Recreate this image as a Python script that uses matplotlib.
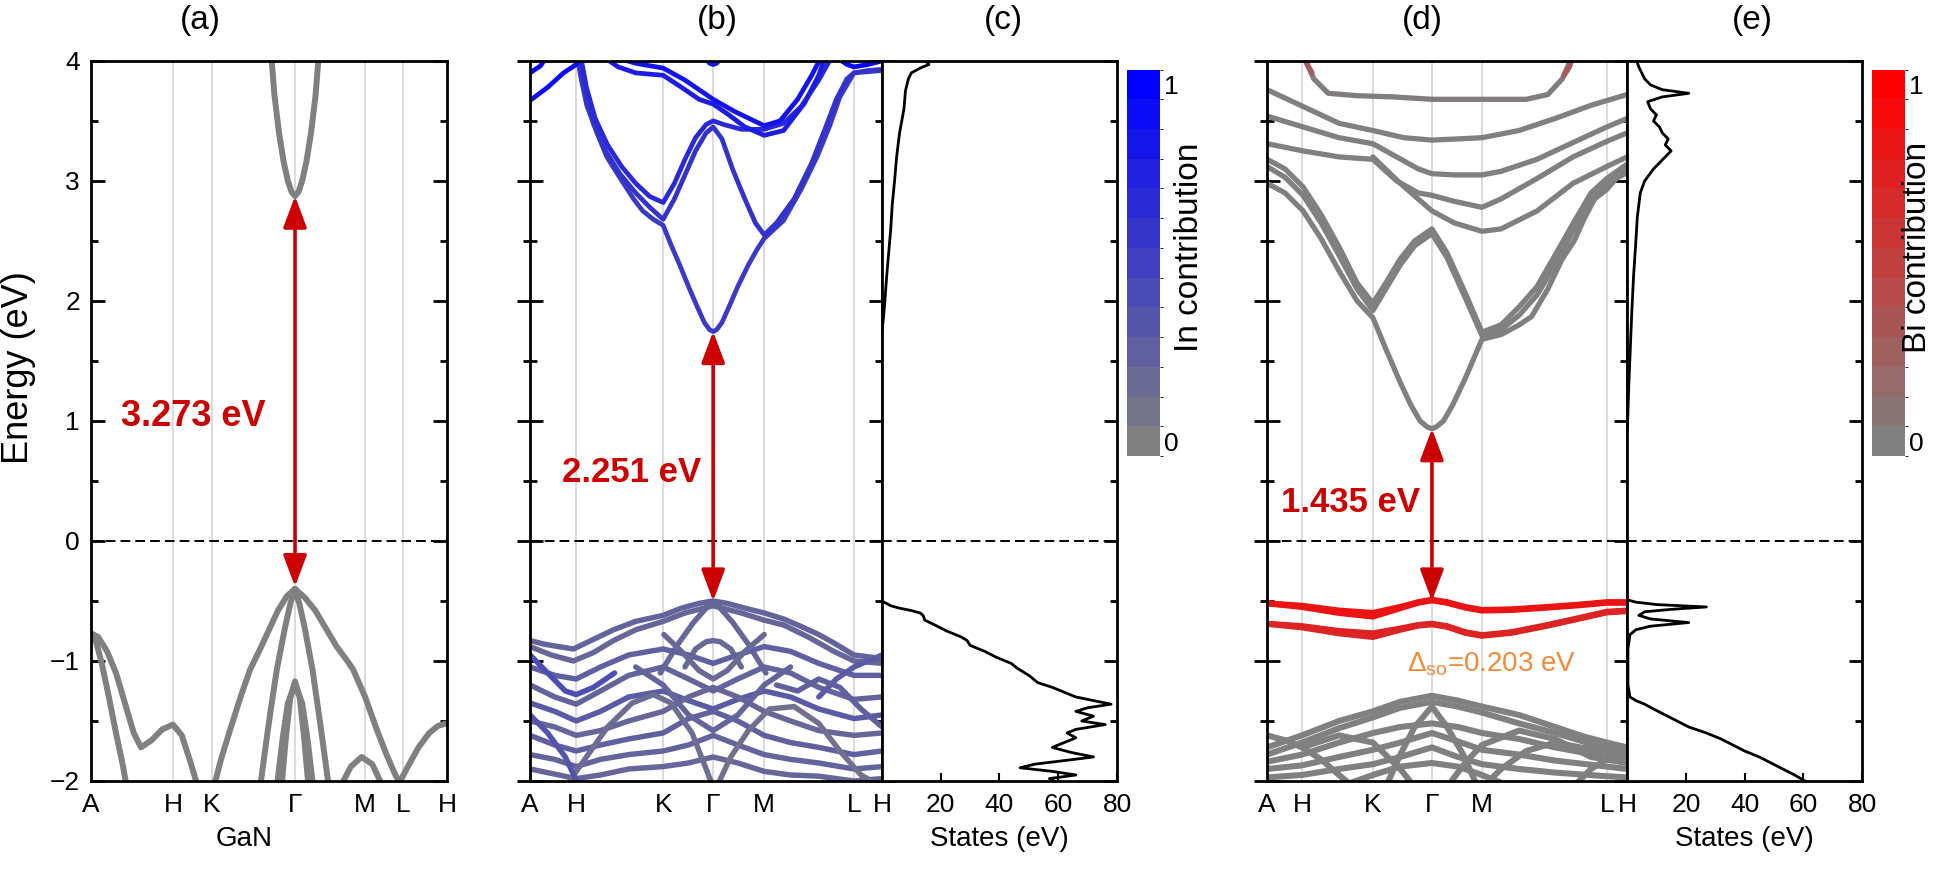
import numpy as np
import matplotlib
matplotlib.use("Agg")
from matplotlib import pyplot as plt
from matplotlib.colors import LinearSegmentedColormap, ListedColormap, BoundaryNorm
from matplotlib.cm import ScalarMappable

plt.rcParams['font.family'] = ['Liberation Sans', 'DejaVu Sans']
plt.rcParams['mathtext.fontset'] = 'custom'
plt.rcParams['mathtext.rm'] = 'Liberation Sans'

# high symmetry points, as fraction of the k-path
klabels = ['A', 'H', 'K', 'Γ', 'M', 'L', 'H']
kpos_a = [0, 0.230, 0.340, 0.573, 0.770, 0.876, 1.0]
kpos_b = [0, 0.131, 0.378, 0.520, 0.665, 0.920, 1.0]
kpos_d = [0, 0.097, 0.294, 0.458, 0.597, 0.944, 1.0]

# band edges at Gamma (VBM, CBM) and gap labels
edges_a = (-0.38, 2.873)
edges_b = (-0.50, 1.745)
edges_d = (-0.50, 0.935)
gap_text = ['3.273 eV', '2.251 eV', '1.435 eV']
so_text = 'Δ$_{\\rm so}$=0.203 eV'

# (a) GaN bands  [(k, E), ...]
gan_bands = [
    [(0.505, 4.1), (0.515, 3.72), (0.528, 3.40), (0.541, 3.16), (0.553, 3.00), (0.563, 2.91), (0.573, 2.873),
     (0.583, 2.91), (0.593, 3.00), (0.605, 3.16), (0.618, 3.40), (0.631, 3.72), (0.641, 4.1)],
    [(0.573, -0.40), (0.55, -0.46), (0.525, -0.58), (0.50, -0.74), (0.475, -0.90), (0.447, -1.07), (0.42, -1.30),
     (0.39, -1.58), (0.365, -1.82), (0.345, -2.05)],
    [(0.573, -0.40), (0.56, -0.52), (0.545, -0.72), (0.522, -1.07), (0.505, -1.40), (0.49, -1.72), (0.475, -2.05)],
    [(0.573, -0.40), (0.585, -0.52), (0.60, -0.72), (0.622, -1.07), (0.638, -1.40), (0.653, -1.72), (0.668, -2.05)],
    [(0.573, -0.40), (0.60, -0.47), (0.63, -0.58), (0.66, -0.73), (0.69, -0.88), (0.72, -1.0), (0.736, -1.07),
     (0.77, -1.30), (0.80, -1.55), (0.83, -1.78), (0.855, -1.95), (0.876, -2.05)],
    [(0.86, -2.05), (0.89, -1.88), (0.92, -1.72), (0.95, -1.60), (0.975, -1.54), (1.0, -1.52)],
    [(0.70, -2.05), (0.73, -1.88), (0.76, -1.80), (0.79, -1.86), (0.82, -2.05)],
    [(0, -0.77), (0.02, -0.80), (0.045, -0.92), (0.07, -1.10), (0.095, -1.35), (0.12, -1.60), (0.14, -1.72),
     (0.17, -1.66), (0.20, -1.57), (0.23, -1.53), (0.255, -1.62), (0.28, -1.85), (0.30, -2.05)],
    [(0, -0.77), (0.015, -0.85), (0.03, -1.02), (0.05, -1.30), (0.07, -1.60), (0.09, -1.88), (0.10, -2.05)],
    [(0.535, -2.05), (0.548, -1.62), (0.56, -1.30), (0.573, -1.17), (0.586, -1.30), (0.598, -1.62), (0.611, -2.05)],
    [(0.522, -2.05), (0.538, -1.65), (0.553, -1.35), (0.573, -1.20), (0.593, -1.35), (0.608, -1.65), (0.624, -2.05)],
]

# (b) InGaN bands and their In contribution
ingan_bands = [
    [(0.133, 4.05), (0.145, 3.85), (0.161, 3.63), (0.19, 3.40), (0.218, 3.2), (0.25, 3.05), (0.294, 2.85),
     (0.32, 2.75), (0.35, 2.68), (0.378, 2.63), (0.40, 2.47), (0.425, 2.30), (0.45, 2.12), (0.475, 1.95),
     (0.495, 1.82), (0.51, 1.76), (0.52, 1.745), (0.53, 1.76), (0.545, 1.82), (0.565, 1.95), (0.59, 2.12),
     (0.62, 2.30), (0.645, 2.43), (0.665, 2.52), (0.72, 2.67), (0.77, 2.93), (0.815, 3.2), (0.85, 3.45),
     (0.88, 3.7), (0.92, 3.9), (0.96, 3.91), (1.0, 3.92)],
    [(0.138, 4.05), (0.155, 3.75), (0.18, 3.48), (0.215, 3.25), (0.255, 3.06), (0.30, 2.9), (0.34, 2.78),
     (0.378, 2.68), (0.41, 2.85), (0.44, 3.05), (0.47, 3.25), (0.50, 3.40), (0.52, 3.45), (0.545, 3.35),
     (0.575, 3.1), (0.61, 2.85), (0.64, 2.65), (0.665, 2.55), (0.70, 2.65), (0.75, 2.85), (0.80, 3.15),
     (0.84, 3.45), (0.87, 3.68), (0.90, 3.85), (0.92, 3.9), (0.96, 3.92), (1.0, 3.93)],
    [(0.143, 4.05), (0.16, 3.78), (0.185, 3.52), (0.22, 3.3), (0.26, 3.12), (0.30, 2.98), (0.34, 2.87),
     (0.378, 2.82), (0.41, 2.98), (0.44, 3.18), (0.47, 3.36), (0.50, 3.47), (0.52, 3.50), (0.55, 3.47),
     (0.60, 3.43), (0.665, 3.43), (0.72, 3.48), (0.77, 3.62), (0.82, 3.84), (0.86, 4.05)],
    [(0.20, 4.05), (0.25, 3.95), (0.30, 3.90), (0.378, 3.88), (0.43, 3.78), (0.48, 3.68), (0.52, 3.64),
     (0.56, 3.56), (0.61, 3.45), (0.665, 3.38), (0.72, 3.42), (0.78, 3.65), (0.82, 3.88), (0.84, 4.05)],
    [(0.22, 4.05), (0.30, 3.98), (0.378, 3.94), (0.44, 3.84), (0.52, 3.68), (0.58, 3.58), (0.665, 3.46),
     (0.71, 3.5), (0.76, 3.68), (0.80, 3.88), (0.83, 4.05)],
    [(0, 3.67), (0.05, 3.78), (0.095, 3.9), (0.131, 3.97), (0.15, 4.05)],
    [(0, 3.9), (0.03, 3.96), (0.05, 4.05)],
    [(0.49, 4.05), (0.51, 3.98), (0.52, 3.97), (0.53, 3.98), (0.55, 4.05)],
    [(0.86, 4.05), (0.90, 3.97), (0.92, 3.95), (0.96, 3.97), (1.0, 4.0)],
    # valence
    [(0, -0.83), (0.04, -0.86), (0.08, -0.88), (0.123, -0.90), (0.18, -0.82), (0.237, -0.74), (0.30, -0.67),
     (0.378, -0.62), (0.43, -0.56), (0.48, -0.52), (0.52, -0.50), (0.56, -0.52), (0.61, -0.56), (0.665, -0.60),
     (0.72, -0.65), (0.768, -0.71), (0.82, -0.78), (0.863, -0.85), (0.92, -0.95), (1.0, -0.98)],
    [(0, -0.88), (0.06, -0.95), (0.123, -1.0), (0.18, -0.93), (0.237, -0.83), (0.30, -0.74), (0.378, -0.67),
     (0.44, -0.60), (0.52, -0.54), (0.60, -0.60), (0.665, -0.66), (0.72, -0.70), (0.79, -0.80), (0.863, -0.92),
     (0.92, -1.0), (1.0, -1.02)],
    [(0.37, -1.1), (0.42, -0.86), (0.464, -0.68), (0.50, -0.56), (0.52, -0.52), (0.54, -0.56), (0.576, -0.68),
     (0.62, -0.86), (0.67, -1.1)],
    [(0.44, -1.05), (0.47, -0.90), (0.50, -0.84), (0.52, -0.83), (0.54, -0.84), (0.57, -0.90), (0.60, -1.05)],
    [(0, -1.05), (0.07, -1.12), (0.131, -1.15), (0.20, -1.05), (0.28, -0.95), (0.378, -0.90), (0.45, -0.95),
     (0.52, -1.02), (0.59, -0.95), (0.665, -0.88), (0.74, -0.92), (0.82, -1.02), (0.92, -1.12), (1.0, -1.12)],
    [(0, -1.2), (0.07, -1.3), (0.131, -1.36), (0.20, -1.25), (0.28, -1.12), (0.378, -1.05), (0.45, -1.15),
     (0.52, -1.25), (0.59, -1.15), (0.665, -1.05), (0.74, -1.1), (0.82, -1.22), (0.92, -1.32), (1.0, -1.3)],
    [(0, -1.35), (0.07, -1.42), (0.131, -1.5), (0.20, -1.42), (0.28, -1.3), (0.378, -1.25), (0.45, -1.33),
     (0.52, -1.4), (0.59, -1.32), (0.665, -1.25), (0.74, -1.3), (0.82, -1.4), (0.92, -1.48), (1.0, -1.45)],
    [(0, -1.5), (0.07, -1.55), (0.131, -1.62), (0.20, -1.58), (0.28, -1.5), (0.378, -1.42), (0.45, -1.3),
     (0.52, -1.22), (0.59, -1.3), (0.665, -1.42), (0.74, -1.5), (0.82, -1.58), (0.92, -1.62), (1.0, -1.6)],
    [(0, -1.62), (0.07, -1.7), (0.131, -1.75), (0.20, -1.7), (0.28, -1.65), (0.378, -1.6), (0.45, -1.48),
     (0.52, -1.42), (0.59, -1.5), (0.665, -1.62), (0.74, -1.68), (0.82, -1.72), (0.92, -1.78), (1.0, -1.75)],
    [(0, -1.78), (0.07, -1.82), (0.131, -1.88), (0.20, -1.82), (0.28, -1.78), (0.378, -1.75), (0.45, -1.7),
     (0.52, -1.62), (0.59, -1.7), (0.665, -1.78), (0.74, -1.82), (0.82, -1.85), (0.92, -1.9), (1.0, -1.88)],
    [(0, -1.9), (0.131, -1.98), (0.20, -1.95), (0.28, -1.9), (0.378, -1.88), (0.45, -1.85), (0.52, -1.8),
     (0.59, -1.85), (0.665, -1.92), (0.74, -1.95), (0.82, -1.96), (0.92, -2.0), (1.0, -1.98)],
    [(0.38, -0.78), (0.43, -0.92), (0.48, -1.08), (0.52, -1.15), (0.56, -1.08), (0.61, -0.92), (0.665, -0.78)],
    [(0.30, -1.05), (0.378, -1.2), (0.45, -1.45), (0.52, -1.58), (0.59, -1.45), (0.665, -1.2), (0.74, -1.05)],
    [(0, -0.95), (0.05, -1.1), (0.10, -1.25), (0.131, -1.28), (0.18, -1.22), (0.24, -1.1)],
    [(0.82, -1.3), (0.87, -1.15), (0.92, -1.05), (0.96, -1.0), (1.0, -0.95)],
    [(0.10, -2.05), (0.16, -1.8), (0.22, -1.55), (0.29, -1.35), (0.35, -1.28), (0.40, -1.35), (0.46, -1.6),
     (0.50, -1.9), (0.52, -2.05)],
    [(0.53, -2.05), (0.57, -1.8), (0.62, -1.58), (0.68, -1.4), (0.75, -1.38), (0.82, -1.52), (0.88, -1.75),
     (0.94, -1.95), (1.0, -2.05)],
    [(0, -1.45), (0.05, -1.6), (0.10, -1.8), (0.14, -2.05)],
    [(0.70, -1.2), (0.76, -1.25), (0.82, -1.15), (0.88, -1.22), (0.94, -1.4), (1.0, -1.55)],
]
ingan_w = [0.55, 0.6, 0.68, 0.78, 0.85, 0.9, 0.95, 0.85, 0.95,
           0.22, 0.2, 0.2, 0.18, 0.25, 0.22, 0.3, 0.2, 0.25, 0.22, 0.2, 0.18, 0.22, 0.4, 0.3,
           0.15, 0.12, 0.35, 0.25]

# (d) InGaBiN bands and their Bi contribution
ingabin_bands = [
    [(0.10, 4.05), (0.13, 3.85), (0.17, 3.73), (0.25, 3.71), (0.35, 3.70), (0.458, 3.68), (0.55, 3.68),
     (0.65, 3.68), (0.72, 3.68), (0.78, 3.72), (0.82, 3.85), (0.85, 4.05)],
    [(0, 3.76), (0.10, 3.62), (0.20, 3.48), (0.294, 3.42), (0.38, 3.36), (0.458, 3.34), (0.53, 3.35),
     (0.597, 3.36), (0.70, 3.42), (0.80, 3.52), (0.90, 3.63), (1.0, 3.72)],
    [(0, 3.54), (0.10, 3.45), (0.20, 3.36), (0.294, 3.31), (0.36, 3.2), (0.42, 3.1), (0.458, 3.06),
     (0.52, 3.05), (0.597, 3.05), (0.65, 3.08), (0.75, 3.18), (0.85, 3.32), (0.944, 3.45), (1.0, 3.52)],
    [(0, 3.31), (0.10, 3.25), (0.20, 3.2), (0.294, 3.18), (0.36, 3.0), (0.42, 2.9), (0.458, 2.88),
     (0.52, 2.83), (0.597, 2.78), (0.65, 2.85), (0.75, 3.02), (0.85, 3.2), (0.944, 3.33), (1.0, 3.4)],
    [(0.294, 3.2), (0.37, 2.98), (0.458, 2.75), (0.52, 2.65), (0.597, 2.58), (0.65, 2.6), (0.75, 2.75),
     (0.85, 2.98), (0.944, 3.12), (1.0, 3.2)],
    [(0, 3.18), (0.05, 3.1), (0.10, 2.95), (0.15, 2.72), (0.20, 2.45), (0.25, 2.15), (0.294, 1.98), (0.33, 2.15),
     (0.37, 2.35), (0.41, 2.5), (0.458, 2.6), (0.50, 2.4), (0.55, 2.07), (0.597, 1.74), (0.65, 1.8), (0.70, 1.95),
     (0.75, 2.12), (0.80, 2.38), (0.853, 2.66), (0.90, 2.9), (0.944, 3.02), (1.0, 3.14)],
    [(0, 3.12), (0.05, 3.03), (0.10, 2.88), (0.15, 2.65), (0.20, 2.38), (0.25, 2.1), (0.294, 1.92), (0.33, 2.1),
     (0.37, 2.3), (0.41, 2.46), (0.458, 2.56), (0.50, 2.36), (0.55, 2.03), (0.597, 1.71), (0.65, 1.76),
     (0.70, 1.88), (0.75, 2.05), (0.80, 2.3), (0.853, 2.6), (0.90, 2.84), (0.944, 2.97), (1.0, 3.1)],
    [(0, 2.98), (0.05, 2.9), (0.10, 2.75), (0.15, 2.52), (0.20, 2.25), (0.25, 2.0), (0.294, 1.86), (0.33, 1.6),
     (0.37, 1.32), (0.40, 1.13), (0.425, 1.0), (0.445, 0.95), (0.458, 0.935), (0.47, 0.95), (0.49, 1.0),
     (0.515, 1.13), (0.55, 1.35), (0.597, 1.68), (0.65, 1.72), (0.70, 1.8), (0.735, 1.87), (0.78, 2.1),
     (0.82, 2.35), (0.853, 2.5), (0.88, 2.68), (0.91, 2.85), (0.944, 2.93), (0.97, 3.02), (1.0, 3.07)],
    [(0.10, 4.05), (0.115, 3.95), (0.125, 3.9)],
    [(0.825, 3.88), (0.84, 3.95), (0.85, 4.05)],
    # Bi-derived valence bands
    [(0, -0.52), (0.097, -0.54), (0.20, -0.58), (0.294, -0.60), (0.37, -0.55), (0.42, -0.51), (0.458, -0.49),
     (0.50, -0.51), (0.55, -0.55), (0.597, -0.575), (0.68, -0.57), (0.78, -0.55), (0.87, -0.53), (0.944, -0.51),
     (1.0, -0.51)],
    [(0, -0.52), (0.097, -0.55), (0.20, -0.60), (0.294, -0.63), (0.37, -0.56), (0.42, -0.515), (0.458, -0.495),
     (0.50, -0.515), (0.55, -0.555), (0.597, -0.58), (0.68, -0.575), (0.78, -0.555), (0.87, -0.535),
     (0.944, -0.515), (1.0, -0.515)],
    [(0, -0.69), (0.097, -0.71), (0.20, -0.75), (0.294, -0.77), (0.37, -0.73), (0.42, -0.70), (0.458, -0.69),
     (0.50, -0.71), (0.55, -0.76), (0.597, -0.785), (0.68, -0.76), (0.78, -0.70), (0.87, -0.64), (0.944, -0.59),
     (1.0, -0.58)],
    [(0, -0.69), (0.097, -0.72), (0.20, -0.77), (0.294, -0.80), (0.37, -0.74), (0.42, -0.705), (0.458, -0.695),
     (0.50, -0.715), (0.55, -0.765), (0.597, -0.79), (0.68, -0.765), (0.78, -0.705), (0.87, -0.645),
     (0.944, -0.595), (1.0, -0.585)],
    # host valence bands
    [(0, -1.72), (0.097, -1.62), (0.20, -1.5), (0.294, -1.42), (0.37, -1.34), (0.458, -1.29), (0.53, -1.33),
     (0.597, -1.38), (0.70, -1.45), (0.80, -1.55), (0.88, -1.63), (0.944, -1.68), (1.0, -1.72)],
    [(0, -1.78), (0.097, -1.68), (0.20, -1.56), (0.294, -1.47), (0.37, -1.39), (0.458, -1.34), (0.53, -1.38),
     (0.597, -1.43), (0.70, -1.52), (0.80, -1.6), (0.944, -1.73), (1.0, -1.76)],
    [(0.33, -2.05), (0.37, -1.78), (0.41, -1.55), (0.458, -1.38), (0.50, -1.55), (0.545, -1.78), (0.585, -2.05)],
    [(0, -1.84), (0.097, -1.78), (0.20, -1.68), (0.294, -1.6), (0.37, -1.55), (0.458, -1.52), (0.53, -1.55),
     (0.597, -1.6), (0.70, -1.65), (0.80, -1.72), (0.944, -1.8), (1.0, -1.83)],
    [(0, -1.9), (0.097, -1.87), (0.20, -1.8), (0.294, -1.74), (0.37, -1.68), (0.458, -1.6), (0.53, -1.67),
     (0.597, -1.74), (0.70, -1.78), (0.80, -1.83), (0.944, -1.88), (1.0, -1.9)],
    [(0, -1.97), (0.097, -1.95), (0.20, -1.9), (0.294, -1.86), (0.37, -1.8), (0.458, -1.72), (0.53, -1.8),
     (0.597, -1.86), (0.70, -1.9), (0.80, -1.93), (0.944, -1.96), (1.0, -1.97)],
    [(0.20, -2.05), (0.294, -1.95), (0.37, -1.88), (0.458, -1.85), (0.53, -1.88), (0.597, -1.95), (0.68, -2.05)],
    [(0.097, -1.72), (0.20, -1.62), (0.294, -1.68), (0.37, -1.9), (0.41, -2.05)],
    [(0.50, -2.05), (0.55, -1.85), (0.597, -1.7), (0.70, -1.58), (0.80, -1.65), (0.90, -1.8), (1.0, -1.85)],
    [(0, -1.62), (0.05, -1.66), (0.097, -1.72), (0.15, -1.82), (0.20, -1.95), (0.24, -2.05)],
    [(0.85, -2.05), (0.90, -1.9), (0.944, -1.82), (1.0, -1.78)],
    [(0.60, -2.05), (0.65, -1.9), (0.72, -1.75), (0.80, -1.68), (0.87, -1.72), (0.944, -1.75), (1.0, -1.8)],
]
ingabin_w = [0.02, 0.0, 0.0, 0.0, 0.0, 0.0, 0.0, 0.0, 0.3, 0.3,
             0.86, 0.84, 0.74, 0.72,
             0.0, 0.0, 0.0, 0.0, 0.0, 0.0, 0.0, 0.0, 0.0, 0.0, 0.0, 0.0]

# (c) total DOS of InGaN
dos_c_cb_e = [4.02, 4.0, 3.97, 3.94, 3.9, 3.85, 3.75, 3.6, 3.4, 3.2, 3.0, 2.8, 2.6, 2.4, 2.2, 2.0, 1.85, 1.745]
dos_c_cb = [16, 15, 16, 13, 10, 9, 8, 7.5, 6, 5, 4.3, 3.5, 3, 2.3, 1.6, 1.0, 0.5, 0]
dos_c_vb_e = [-0.50, -0.54, -0.56, -0.58, -0.60, -0.62, -0.66, -0.70, -0.75, -0.80, -0.83, -0.87, -0.92, -0.97,
              -1.02, -1.06, -1.12, -1.18, -1.22, -1.26, -1.30, -1.33, -1.36, -1.39, -1.42, -1.46, -1.50, -1.53,
              -1.57, -1.60, -1.64, -1.68, -1.72, -1.76, -1.80, -1.83, -1.86, -1.89, -1.92, -1.95, -1.98, -2.02]
dos_c_vb = [0, 3, 6, 10, 13, 14, 14.6, 18, 22, 27, 29, 30, 35, 39, 44, 46, 50, 53, 58, 62, 66, 72, 78, 70, 66,
            72, 68, 76, 66, 63, 66, 62, 58, 64, 72, 62, 52, 47, 58, 66, 57, 60]

# (e) total DOS of InGaBiN
dos_e_cb_e = [4.02, 3.95, 3.9, 3.85, 3.80, 3.76, 3.73, 3.70, 3.66, 3.60, 3.55, 3.50, 3.45, 3.40, 3.35, 3.30,
              3.25, 3.20, 3.15, 3.10, 3.0, 2.9, 2.7, 2.5, 2.2, 1.9, 1.6, 1.3, 1.0, 0.935]
dos_e_cb = [3, 4, 5, 6, 8, 12, 21, 12, 7, 8, 10, 9, 11, 12, 14, 13, 15, 13, 11, 9, 6, 4.5, 3.5, 3, 2.2, 1.6,
            1.1, 0.6, 0.2, 0]
dos_e_vb_e = [-0.49, -0.51, -0.53, -0.55, -0.57, -0.59, -0.62, -0.65, -0.68, -0.71, -0.74, -0.78, -0.9, -1.2,
              -1.3, -1.33, -1.36, -1.40, -1.45, -1.50, -1.55, -1.60, -1.65, -1.70, -1.75, -1.80, -1.85, -1.90,
              -1.95, -2.02]
dos_e_vb = [0, 3, 10, 27, 15, 6, 4, 8, 21, 8, 3, 1, 0.3, 0.3, 1, 3, 6, 9, 13, 17, 21, 27, 32, 36, 40, 45, 49,
            53, 57, 62]
dos_ticks = [20, 40, 60, 80]

gray = '#808080'
cmap_in = LinearSegmentedColormap.from_list('in', [gray, '#0000ff'])
cmap_bi = LinearSegmentedColormap.from_list('bi', [gray, '#ff0000'])
red = '#cc0000'

fig = plt.figure(figsize=(19.46, 8.89), dpi=100)
B, Hh = 0.1215, 0.810
ax_a = fig.add_axes([0.0468, B, 0.1829, Hh])
ax_b = fig.add_axes([0.2724, B, 0.1809, Hh])
ax_c = fig.add_axes([0.4532, B, 0.1208, Hh])
cax1 = fig.add_axes([0.5791, 0.487, 0.017, 0.4348])
ax_d = fig.add_axes([0.6511, B, 0.1850, Hh])
ax_e = fig.add_axes([0.8361, B, 0.1208, Hh])
cax2 = fig.add_axes([0.9620, 0.487, 0.017, 0.4348])

TS = 19


def common(ax):
    ax.set_ylim(-2, 4)
    ax.set_yticks(range(-2, 5))
    ax.set_yticks(np.arange(-2, 4.01, 0.5), minor=True)
    for s in ax.spines.values():
        s.set_linewidth(2)
    ax.axhline(0, color='k', lw=1.4, ls=(0, (5, 2.6)), zorder=1)


def band_axis(ax, kpos, labels_on):
    common(ax)
    ax.set_xlim(0, 1)
    ax.set_xticks(kpos)
    ax.set_xticklabels(klabels)
    for k in kpos[1:-1]:
        ax.axvline(k, color='#d0d0d8', lw=1.1, zorder=0)
    ax.tick_params(axis='x', length=0, labelsize=TS, pad=9)
    if labels_on:
        ax.tick_params(axis='y', which='major', direction='in', left=True, right=True,
                       length=10, width=2, labelsize=TS, pad=8)
        ax.tick_params(axis='y', which='minor', direction='in', left=True, right=True, length=5, width=2)
    else:
        ax.tick_params(axis='y', which='major', direction='inout', left=True, right=True,
                       length=19, width=2, labelleft=False)
        ax.tick_params(axis='y', which='minor', direction='inout', left=True, right=True, length=9.5, width=2)


def dos_axis(ax):
    common(ax)
    ax.set_xlim(0, 80)
    ax.set_xticks(dos_ticks)
    ax.tick_params(axis='x', direction='in', length=6, width=1.5, labelsize=TS, pad=9)
    ax.tick_params(axis='y', which='major', direction='in', left=False, right=True, length=9.5, width=2,
                   labelleft=False)
    ax.tick_params(axis='y', which='minor', direction='in', left=False, right=True, length=5, width=2)
    ax.set_xlabel('States (eV)', fontsize=20)
    ax.xaxis.set_label_coords(0.5, -0.062)


def draw(ax, bands, weights, cmap, lw):
    for i, pts in enumerate(bands):
        k = [p[0] for p in pts]
        e = [p[1] for p in pts]
        c = gray if cmap is None else cmap(weights[i])
        w = lw if (min(e) > 0 or cmap is None) else lw * 1.15
        ax.plot(k, e, color=c, lw=w, solid_capstyle='round', solid_joinstyle='round', zorder=2)


def gap_arrow(ax, kg, edges):
    ax.annotate('', xy=(kg, edges[1]), xytext=(kg, edges[0]),
                arrowprops=dict(arrowstyle='<|-|>,head_length=0.8,head_width=0.3', color=red, lw=2.6,
                                mutation_scale=24, shrinkA=0, shrinkB=0), zorder=5)


# (a)
band_axis(ax_a, kpos_a, True)
draw(ax_a, gan_bands, None, None, 4.3)
gap_arrow(ax_a, kpos_a[3], edges_a)
ax_a.text(0.085, 1.04, gap_text[0], color=red, fontsize=26, fontweight='bold', va='center', ha='left')
ax_a.set_xlabel('GaN', fontsize=20)
ax_a.xaxis.set_label_coords(0.43, -0.062)

# (b)
band_axis(ax_b, kpos_b, False)
draw(ax_b, ingan_bands, ingan_w, cmap_in, 3.4)
gap_arrow(ax_b, kpos_b[3], edges_b)
ax_b.text(0.09, 0.57, gap_text[1], color=red, fontsize=25, fontweight='bold', va='center', ha='left')

# (c)
dos_axis(ax_c)
ax_c.plot(dos_c_cb, dos_c_cb_e, color='k', lw=2)
ax_c.plot(dos_c_vb, dos_c_vb_e, color='k', lw=2)

# (d)
band_axis(ax_d, kpos_d, False)
draw(ax_d, ingabin_bands, ingabin_w, cmap_bi, 3.8)
gap_arrow(ax_d, kpos_d[3], edges_d)
ax_d.text(0.04, 0.32, gap_text[2], color=red, fontsize=25, fontweight='bold', va='center', ha='left')
ax_d.text(0.39, -1.03, so_text, color='#f28a3a', fontsize=20, va='center', ha='left')

# (e)
dos_axis(ax_e)
ax_e.plot(dos_e_cb, dos_e_cb_e, color='k', lw=2)
ax_e.plot(dos_e_vb, dos_e_vb_e, color='k', lw=2)

# colour bars (13 discrete steps)
bounds = np.linspace(-1 / 24, 1 + 1 / 24, 14)
for cax, cm, lab, xl in [(cax1, cmap_in, 'In contribution', 1190), (cax2, cmap_bi, 'Bi contribution', 1918)]:
    steps = ListedColormap([cm(v) for v in np.linspace(0, 1, 13)])
    cb = fig.colorbar(ScalarMappable(norm=BoundaryNorm(bounds, 13), cmap=steps), cax=cax, ticks=[0, 1])
    cb.outline.set_visible(False)
    cb.ax.tick_params(length=0, labelsize=TS, pad=3)
    fig.text(xl / 1946, 1 - 247 / 889, lab, rotation=90, fontsize=24, ha='center', va='center')

# panel letters and y label
for x, s in zip([200, 717, 1003, 1422, 1752], ['(a)', '(b)', '(c)', '(d)', '(e)']):
    fig.text(x / 1946, 1 - 21 / 889, s, fontsize=24, ha='center', va='center')
fig.text(19 / 1946, 1 - 368 / 889, 'Energy (eV)', rotation=90, fontsize=26, ha='center', va='center')

fig.savefig('out.png', dpi=100)
